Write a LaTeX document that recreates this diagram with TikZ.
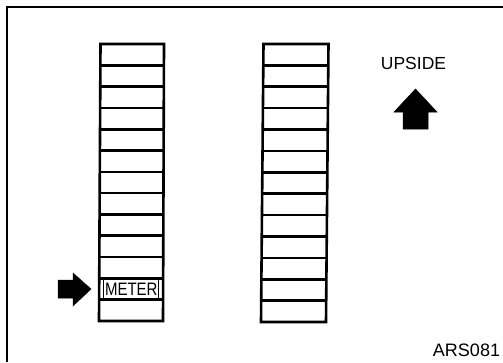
\documentclass[tikz,border=0pt]{standalone}
\usepackage{fontspec}
\setmainfont{Liberation Sans}
\usetikzlibrary{calc}
\begin{document}
\begin{tikzpicture}[x=1pt,y=-1pt,
  stackline/.style={line width=2.6pt},
  framel/.style={line width=1.5pt},
  arrowfill/.style={fill=black,draw=black,line width=0.5pt,line join=miter},
  lbl/.style={inner sep=0pt,font=\fontsize{17.5}{18}\selectfont},
  meterbox/.style={draw,line width=1pt,inner sep=0pt,minimum width=55pt,minimum height=18.5pt,font=\fontsize{15}{16}\selectfont}]
\useasboundingbox (0,0) rectangle (503,362);
\fill[white] (0,0) rectangle (503,362);
% frame
\draw[framel] (7,362) -- (7,7) -- (503,7);
% left stack
\coordinate (LTL) at (100.5,44);
\coordinate (LTR) at (164,44);
\coordinate (LBL) at (99,321);
\coordinate (LBR) at (163,321);
\draw[stackline,line join=miter] (LTL) -- (LTR) -- (LBR) -- (LBL) -- cycle;
\foreach \i in {1,...,12}{
  \draw[stackline] ($(LTL)!\i/13!(LBL)$) -- ($(LTR)!\i/13!(LBR)$);
}
% right stack
\coordinate (RTL) at (263.5,44);
\coordinate (RTR) at (328.5,44);
\coordinate (RBL) at (261,322);
\coordinate (RBR) at (326,322);
\draw[stackline,line join=miter] (RTL) -- (RTR) -- (RBR) -- (RBL) -- cycle;
\foreach \i in {1,...,12}{
  \draw[stackline] ($(RTL)!\i/13!(RBL)$) -- ($(RTR)!\i/13!(RBR)$);
}
% METER label
\node[meterbox] (meter) at (131.3,289) {\scalebox{1}[1.2]{METER}};
% right-pointing arrow
\fill[arrowfill] (58,280) -- (73,280) -- (73,273) -- (91,289) -- (73,306) -- (73,298) -- (58,298) -- cycle;
% up arrow
\fill[arrowfill] (403,129) -- (403,112) -- (394,112) -- (415.5,89) -- (437,112) -- (428,112) -- (428,129) -- cycle;
% texts
\node[lbl] (upside) at (413.5,63) {UPSIDE};
\node[lbl,font=\fontsize{18}{19}\selectfont] (code) at (466.5,350) {ARS081};
\end{tikzpicture}
\end{document}
